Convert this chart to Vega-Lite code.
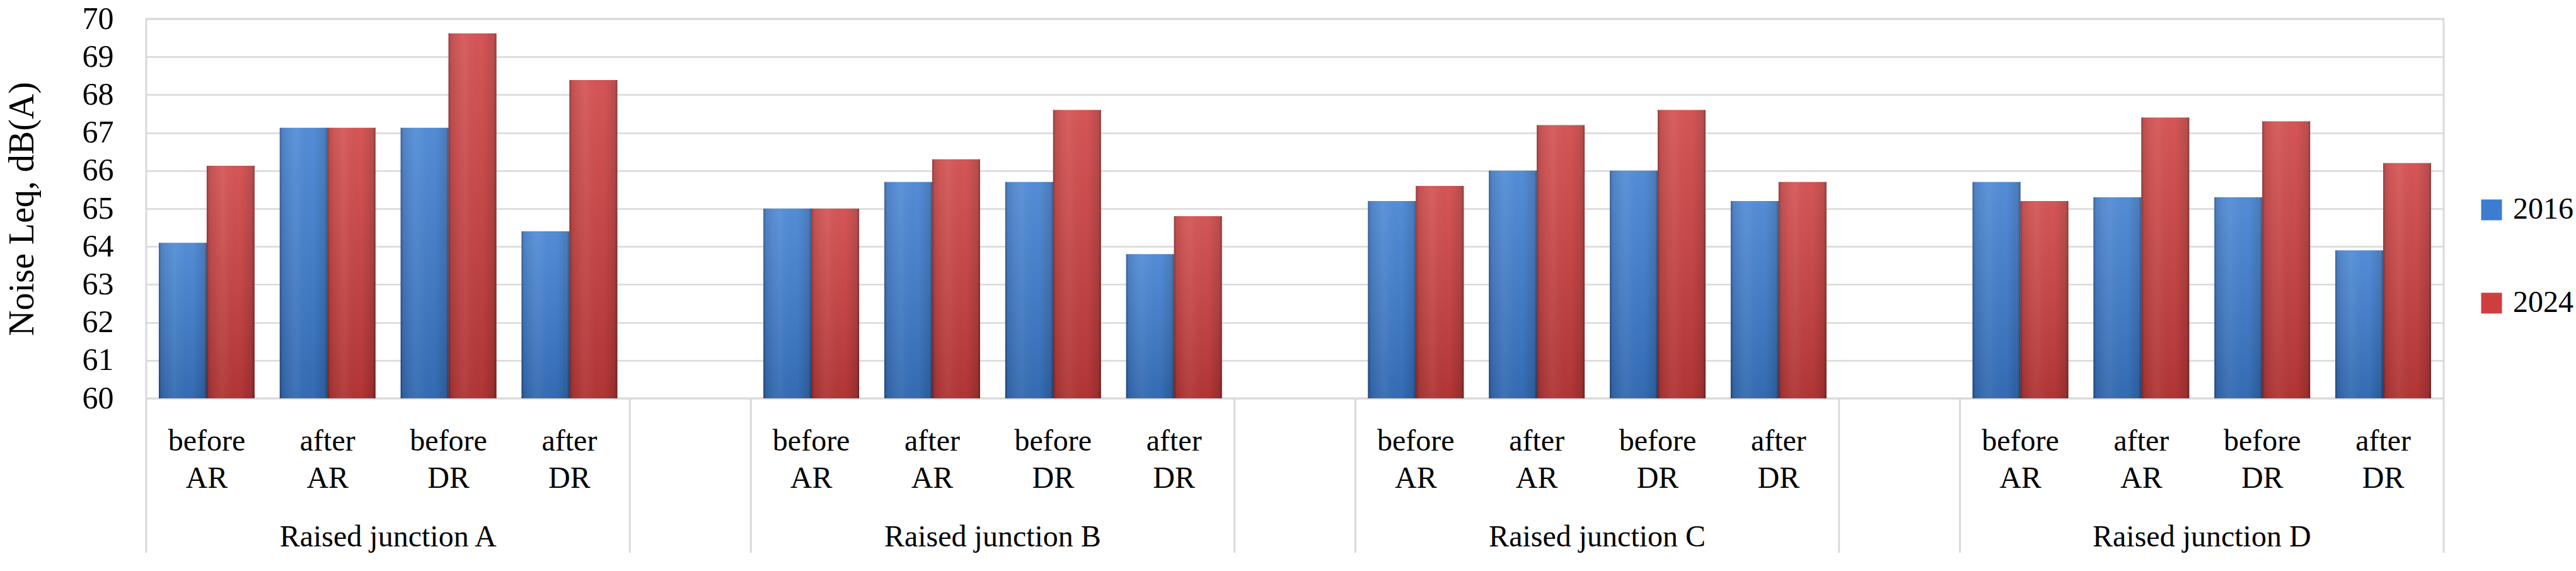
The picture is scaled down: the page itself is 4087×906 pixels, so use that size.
{
  "$schema": "https://vega.github.io/schema/vega-lite/v6.json",
  "autosize": "none",
  "padding": {"left": 232, "top": 30, "right": 210, "bottom": 274},
  "width": 3645,
  "height": 602,
  "background": "white",
  "config": {
    "font": "Liberation Serif",
    "view": {"stroke": "#d9d9d9", "strokeWidth": 3},
    "axis": {"labelColor": "#000000", "titleColor": "#000000", "labelFont": "Liberation Serif", "titleFont": "Liberation Serif"},
    "legend": {"labelFont": "Liberation Serif"},
    "text": {"font": "Liberation Serif"}
  },
  "data": {
    "values": [
      {"slot": "A: before AR", "group": "Raised junction A", "year": "2016", "value": 64.1},
      {"slot": "A: before AR", "group": "Raised junction A", "year": "2024", "value": 66.13},
      {"slot": "A: after AR", "group": "Raised junction A", "year": "2016", "value": 67.13},
      {"slot": "A: after AR", "group": "Raised junction A", "year": "2024", "value": 67.13},
      {"slot": "A: before DR", "group": "Raised junction A", "year": "2016", "value": 67.13},
      {"slot": "A: before DR", "group": "Raised junction A", "year": "2024", "value": 69.62},
      {"slot": "A: after DR", "group": "Raised junction A", "year": "2016", "value": 64.4},
      {"slot": "A: after DR", "group": "Raised junction A", "year": "2024", "value": 68.39},
      {"slot": "B: before AR", "group": "Raised junction B", "year": "2016", "value": 65.0},
      {"slot": "B: before AR", "group": "Raised junction B", "year": "2024", "value": 65.0},
      {"slot": "B: after AR", "group": "Raised junction B", "year": "2016", "value": 65.7},
      {"slot": "B: after AR", "group": "Raised junction B", "year": "2024", "value": 66.3},
      {"slot": "B: before DR", "group": "Raised junction B", "year": "2016", "value": 65.7},
      {"slot": "B: before DR", "group": "Raised junction B", "year": "2024", "value": 67.6},
      {"slot": "B: after DR", "group": "Raised junction B", "year": "2016", "value": 63.8},
      {"slot": "B: after DR", "group": "Raised junction B", "year": "2024", "value": 64.8},
      {"slot": "C: before AR", "group": "Raised junction C", "year": "2016", "value": 65.2},
      {"slot": "C: before AR", "group": "Raised junction C", "year": "2024", "value": 65.6},
      {"slot": "C: after AR", "group": "Raised junction C", "year": "2016", "value": 66.0},
      {"slot": "C: after AR", "group": "Raised junction C", "year": "2024", "value": 67.2},
      {"slot": "C: before DR", "group": "Raised junction C", "year": "2016", "value": 66.0},
      {"slot": "C: before DR", "group": "Raised junction C", "year": "2024", "value": 67.6},
      {"slot": "C: after DR", "group": "Raised junction C", "year": "2016", "value": 65.2},
      {"slot": "C: after DR", "group": "Raised junction C", "year": "2024", "value": 65.7},
      {"slot": "D: before AR", "group": "Raised junction D", "year": "2016", "value": 65.7},
      {"slot": "D: before AR", "group": "Raised junction D", "year": "2024", "value": 65.2},
      {"slot": "D: after AR", "group": "Raised junction D", "year": "2016", "value": 65.3},
      {"slot": "D: after AR", "group": "Raised junction D", "year": "2024", "value": 67.4},
      {"slot": "D: before DR", "group": "Raised junction D", "year": "2016", "value": 65.3},
      {"slot": "D: before DR", "group": "Raised junction D", "year": "2024", "value": 67.3},
      {"slot": "D: after DR", "group": "Raised junction D", "year": "2016", "value": 63.9},
      {"slot": "D: after DR", "group": "Raised junction D", "year": "2024", "value": 66.2}
    ]
  },
  "encoding": {
    "x": {
      "field": "slot",
      "type": "nominal",
      "sort": null,
      "scale": {
        "domain": ["A: before AR", "A: after AR", "A: before DR", "A: after DR", "gapAB",
                   "B: before AR", "B: after AR", "B: before DR", "B: after DR", "gapBC",
                   "C: before AR", "C: after AR", "C: before DR", "C: after DR", "gapCD",
                   "D: before AR", "D: after AR", "D: before DR", "D: after DR"],
        "paddingInner": 0,
        "paddingOuter": 0
      },
      "axis": {
        "title": null,
        "domain": false,
        "ticks": false,
        "labelAngle": 0,
        "labelFont": "Liberation Serif",
        "labelFontSize": 48,
        "labelPadding": 44,
        "labelLineHeight": 59,
        "labelOverlap": false,
        "labelLimit": 0,
        "labelBound": false,
        "labelFlush": false,
        "zindex": 1,
        "labelExpr": "indexof(datum.value, ':') < 0 ? '' : split(slice(datum.value, 3), ' ')"
      }
    }
  },
  "layer": [
    {
      "mark": {"type": "bar", "strokeWidth": 0},
      "encoding": {
        "xOffset": {"field": "year", "type": "nominal", "scale": {"paddingOuter": 0.263, "paddingInner": 0}},
        "y": {
          "field": "value",
          "type": "quantitative",
          "scale": {"domain": [60, 70], "zero": false, "nice": false},
          "axis": {
            "title": "Noise Leq, dB(A)",
            "titleFont": "Liberation Serif",
            "titleFontSize": 56,
            "titleFontWeight": "normal",
            "titlePadding": 66,
            "values": [60, 61, 62, 63, 64, 65, 66, 67, 68, 69, 70],
            "format": "d",
            "domain": false,
            "ticks": false,
            "labelFont": "Liberation Serif",
            "labelFontSize": 50,
            "labelPadding": 52,
            "gridColor": "#d9d9d9",
            "gridWidth": 2.5
          }
        },
        "y2": {"datum": 60},
        "fill": {
          "field": "year",
          "type": "nominal",
          "scale": {"domain": ["2016", "2024"], "range": ["#3c7dd1", "#cf3e3e"]},
          "legend": {
            "title": null,
            "orient": "none",
            "legendX": 3697,
            "legendY": 279,
            "padding": 0,
            "symbolType": "square",
            "symbolSize": 1089,
            "symbolStrokeWidth": 0,
            "labelFont": "Liberation Serif",
            "labelFontSize": 48,
            "labelOffset": 10,
            "rowPadding": 100,
            "labelColor": "#000000"
          }
        }
      }
    },
    {
      "mark": {
        "type": "bar",
        "fill": {
          "gradient": "linear", "x1": 0, "x2": 1, "y1": 0, "y2": 0,
          "stops": [
            {"offset": 0, "color": "rgba(0,0,20,0.40)"},
            {"offset": 0.05, "color": "rgba(0,0,0,0.10)"},
            {"offset": 0.35, "color": "rgba(255,255,255,0.06)"},
            {"offset": 0.7, "color": "rgba(0,0,0,0.0)"},
            {"offset": 0.95, "color": "rgba(0,0,0,0.15)"},
            {"offset": 1, "color": "rgba(0,0,0,0.45)"}
          ]
        }
      },
      "encoding": {
        "xOffset": {"field": "year", "type": "nominal"},
        "y": {"field": "value", "type": "quantitative"},
        "y2": {"datum": 60}
      }
    },
    {
      "mark": {
        "type": "bar",
        "fill": {
          "gradient": "linear", "x1": 0, "x2": 0, "y1": 0, "y2": 1,
          "stops": [
            {"offset": 0, "color": "rgba(255,255,255,0.12)"},
            {"offset": 1, "color": "rgba(0,0,0,0.14)"}
          ]
        }
      },
      "encoding": {
        "xOffset": {"field": "year", "type": "nominal"},
        "y": {"field": "value", "type": "quantitative"},
        "y2": {"datum": 60}
      }
    },
    {
      "data": {"values": [
        {"slot": "A: before AR"}, {"slot": "gapAB"}, {"slot": "B: before AR"}, {"slot": "gapBC"},
        {"slot": "C: before AR"}, {"slot": "gapCD"}, {"slot": "D: before AR"}
      ]},
      "mark": {"type": "rule", "color": "#d9d9d9", "strokeWidth": 3},
      "encoding": {
        "x": {"field": "slot", "type": "nominal", "bandPosition": 0},
        "y": {"datum": 60},
        "y2": {"datum": 55.93}
      }
    },
    {
      "data": {"values": [{"slot": "D: after DR"}]},
      "mark": {"type": "rule", "color": "#d9d9d9", "strokeWidth": 3},
      "encoding": {
        "x": {"field": "slot", "type": "nominal", "bandPosition": 1},
        "y": {"datum": 60},
        "y2": {"datum": 55.93}
      }
    },
    {
      "data": {"values": [
        {"slot": "A: before DR", "group": "Raised junction A"},
        {"slot": "B: before DR", "group": "Raised junction B"},
        {"slot": "C: before DR", "group": "Raised junction C"},
        {"slot": "D: before DR", "group": "Raised junction D"}
      ]},
      "mark": {"type": "text", "font": "Liberation Serif", "fontSize": 48, "baseline": "alphabetic", "align": "center", "color": "#000000"},
      "encoding": {
        "x": {"field": "slot", "type": "nominal", "bandPosition": 0},
        "y": {"datum": 56.1},
        "text": {"field": "group"}
      }
    }
  ]
}
